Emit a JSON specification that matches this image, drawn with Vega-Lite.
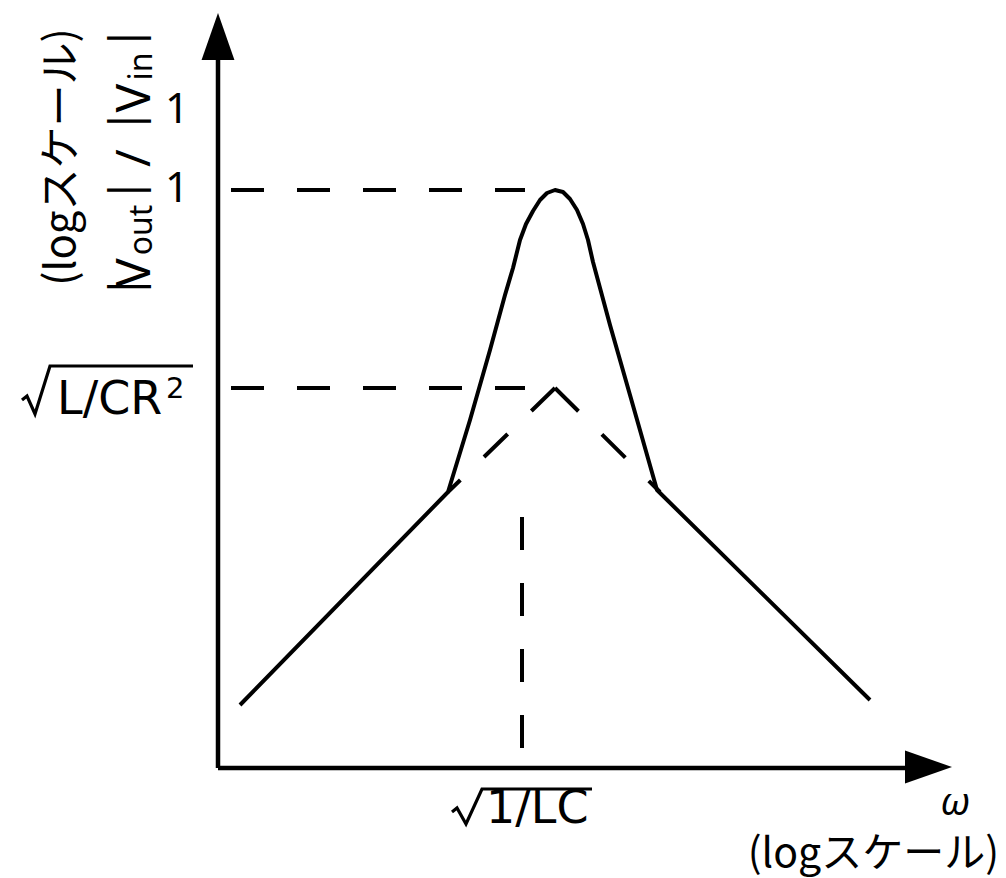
{
  "$schema": "https://vega.github.io/schema/vega-lite/v6.json",
  "width": 1006,
  "height": 878,
  "padding": 0,
  "autosize": {"type": "fit", "contains": "padding"},
  "background": "white",
  "config": {"view": {"stroke": null}, "text": {"font": "Noto Sans, Noto Sans CJK JP", "color": "black"}},
  "datasets": {
    "axes": [
      {"seg": "yaxis", "o": 0, "x": 218, "y": 110},
      {"seg": "yaxis", "o": 1, "x": 218, "y": 820},
      {"seg": "xaxis", "o": 0, "x": 218, "y": 110},
      {"seg": "xaxis", "o": 1, "x": 907, "y": 110}
    ],
    "curve": [
      {"o": 0, "x": 240, "y": 173},
      {"o": 1, "x": 448, "y": 386},
      {"o": 2, "x": 470, "y": 458},
      {"o": 3, "x": 490, "y": 528},
      {"o": 4, "x": 505, "y": 583},
      {"o": 5, "x": 513, "y": 610},
      {"o": 6, "x": 520, "y": 638},
      {"o": 7, "x": 526, "y": 654},
      {"o": 8, "x": 533, "y": 667},
      {"o": 9, "x": 540, "y": 678},
      {"o": 10, "x": 547, "y": 685},
      {"o": 11, "x": 555, "y": 688},
      {"o": 12, "x": 563, "y": 686},
      {"o": 13, "x": 570, "y": 679},
      {"o": 14, "x": 577, "y": 668},
      {"o": 15, "x": 583, "y": 654},
      {"o": 16, "x": 588, "y": 638},
      {"o": 17, "x": 593, "y": 616},
      {"o": 18, "x": 610, "y": 553},
      {"o": 19, "x": 630, "y": 483},
      {"o": 20, "x": 657, "y": 388},
      {"o": 21, "x": 870, "y": 178}
    ],
    "radicals": [
      {"seg": "r1", "o": 0, "x": 22, "y": 478},
      {"seg": "r1", "o": 1, "x": 27, "y": 482},
      {"seg": "r1", "o": 2, "x": 35, "y": 464},
      {"seg": "r1", "o": 3, "x": 50, "y": 512},
      {"seg": "r1", "o": 4, "x": 193, "y": 512},
      {"seg": "r2", "o": 0, "x": 452, "y": 66},
      {"seg": "r2", "o": 1, "x": 457, "y": 70},
      {"seg": "r2", "o": 2, "x": 466, "y": 54},
      {"seg": "r2", "o": 3, "x": 482, "y": 89},
      {"seg": "r2", "o": 4, "x": 592, "y": 89}
    ],
    "dashed": [
      {"seg": "h1", "o": 0, "x": 231, "y": 688},
      {"seg": "h1", "o": 1, "x": 525, "y": 688},
      {"seg": "h2", "o": 0, "x": 231, "y": 490},
      {"seg": "h2", "o": 1, "x": 525, "y": 490},
      {"seg": "v", "o": 0, "x": 522, "y": 361},
      {"seg": "v", "o": 1, "x": 522, "y": 130},
      {"seg": "tl", "o": 0, "x": 555, "y": 490},
      {"seg": "tl", "o": 1, "x": 448, "y": 386},
      {"seg": "tr", "o": 0, "x": 555, "y": 490},
      {"seg": "tr", "o": 1, "x": 660, "y": 386}
    ],
    "arrows": [
      {"dir": "up", "x": 218, "y": 841.5},
      {"dir": "right", "x": 928.5, "y": 111}
    ],
    "ticks": [
      {"t": "1", "x": 177, "y": 755},
      {"t": "1", "x": 177, "y": 676}
    ],
    "leftTexts": [
      {"t": "L/CR", "x": 57, "y": 464}
    ],
    "leftTexts2": [
      {"t": "1/LC", "x": 486, "y": 55}
    ],
    "sup": [
      {"t": "2", "x": 166, "y": 480}
    ],
    "omega": [
      {"t": "ω", "x": 955, "y": 63}
    ],
    "xlog": [
      {"t": "(logスケール)", "x": 999, "y": 11}
    ],
    "ylog": [
      {"t": "(logスケール)", "x": 75, "y": 721}
    ],
    "yBars": [
      {"t": "|", "x": 140, "y": 591.5},
      {"t": "|", "x": 140, "y": 688},
      {"t": "|", "x": 140, "y": 757},
      {"t": "|", "x": 140, "y": 840}
    ],
    "yMain": [
      {"t": "V", "x": 150, "y": 605.5},
      {"t": "/", "x": 150, "y": 720},
      {"t": "V", "x": 150, "y": 780}
    ],
    "ySub": [
      {"t": "out", "x": 152, "y": 648},
      {"t": "in", "x": 152, "y": 811.5}
    ]
  },
  "encoding": {
    "x": {"field": "x", "type": "quantitative", "scale": {"domain": [0, 1006], "nice": false, "zero": false}, "axis": null},
    "y": {"field": "y", "type": "quantitative", "scale": {"domain": [0, 878], "nice": false, "zero": false}, "axis": null}
  },
  "layer": [
    {
      "data": {"name": "axes"},
      "mark": {"type": "line", "color": "black", "strokeWidth": 4.5, "strokeCap": "butt"},
      "encoding": {"detail": {"field": "seg"}, "order": {"field": "o", "type": "quantitative"}}
    },
    {
      "data": {"name": "curve"},
      "mark": {"type": "line", "color": "black", "strokeWidth": 4, "strokeCap": "butt", "strokeJoin": "round"},
      "encoding": {"order": {"field": "o", "type": "quantitative"}}
    },
    {
      "data": {"name": "radicals"},
      "mark": {"type": "line", "color": "black", "strokeWidth": 3.2, "strokeCap": "butt", "strokeJoin": "miter"},
      "encoding": {"detail": {"field": "seg"}, "order": {"field": "o", "type": "quantitative"}}
    },
    {
      "data": {"name": "dashed"},
      "mark": {"type": "line", "color": "black", "strokeWidth": 4, "strokeDash": [33, 33], "strokeCap": "butt"},
      "encoding": {"detail": {"field": "seg"}, "order": {"field": "o", "type": "quantitative"}}
    },
    {
      "data": {"name": "arrows"},
      "mark": {"type": "point", "filled": true, "color": "black", "opacity": 1, "size": 2209, "strokeWidth": 0},
      "encoding": {
        "shape": {"field": "dir", "type": "nominal", "legend": null, "scale": {"domain": ["up", "right"], "range": ["M0,-1L0.7,1L-0.7,1Z", "M1,0L-1,0.7L-1,-0.7Z"]}}
      }
    },
    {
      "data": {"name": "ticks"},
      "mark": {"type": "text", "fontSize": 42, "align": "center", "baseline": "alphabetic"},
      "encoding": {"text": {"field": "t"}}
    },
    {
      "data": {"name": "leftTexts"},
      "mark": {"type": "text", "font": "DejaVu Sans", "fontSize": 46, "align": "left", "baseline": "alphabetic"},
      "encoding": {"text": {"field": "t"}}
    },
    {
      "data": {"name": "leftTexts2"},
      "mark": {"type": "text", "font": "DejaVu Sans", "fontSize": 46, "align": "left", "baseline": "alphabetic"},
      "encoding": {"text": {"field": "t"}}
    },
    {
      "data": {"name": "sup"},
      "mark": {"type": "text", "font": "DejaVu Sans", "fontSize": 29, "align": "left", "baseline": "alphabetic"},
      "encoding": {"text": {"field": "t"}}
    },
    {
      "data": {"name": "omega"},
      "mark": {"type": "text", "fontSize": 38, "fontStyle": "italic", "align": "center", "baseline": "alphabetic"},
      "encoding": {"text": {"field": "t"}}
    },
    {
      "data": {"name": "xlog"},
      "mark": {"type": "text", "font": "Noto Sans CJK JP", "fontSize": 41, "align": "right", "baseline": "alphabetic"},
      "encoding": {"text": {"field": "t"}}
    },
    {
      "data": {"name": "ylog"},
      "mark": {"type": "text", "font": "Noto Sans CJK JP", "fontSize": 42, "angle": 270, "align": "center", "baseline": "alphabetic"},
      "encoding": {"text": {"field": "t"}}
    },
    {
      "data": {"name": "yBars"},
      "mark": {"type": "text", "fontSize": 44, "angle": 270, "align": "center", "baseline": "alphabetic"},
      "encoding": {"text": {"field": "t"}}
    },
    {
      "data": {"name": "yMain"},
      "mark": {"type": "text", "fontSize": 48, "angle": 270, "align": "center", "baseline": "alphabetic"},
      "encoding": {"text": {"field": "t"}}
    },
    {
      "data": {"name": "ySub"},
      "mark": {"type": "text", "fontSize": 32, "angle": 270, "align": "center", "baseline": "alphabetic"},
      "encoding": {"text": {"field": "t"}}
    }
  ]
}
